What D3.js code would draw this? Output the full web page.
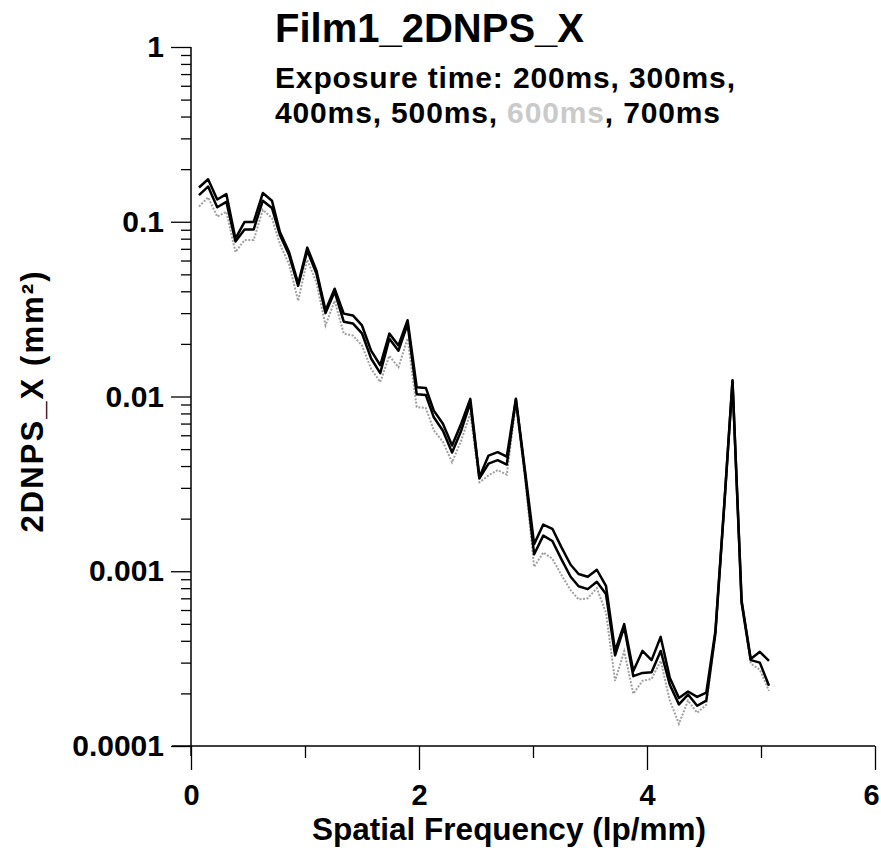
<!DOCTYPE html>
<html>
<head>
<meta charset="utf-8">
<script src="https://cdn.jsdelivr.net/npm/d3@7"></script>
<style>
  body { margin: 0; background: #fff; }
  svg text { font-family: "Liberation Sans", Arial, sans-serif; font-weight: bold; fill: #000; }
</style>
</head>
<body>
<svg id="chart" width="881" height="853"></svg>
<script>
// ---- data ----
const freq = [
  0.07, 0.15, 0.23, 0.31, 0.39, 0.47, 0.55, 0.63, 0.71, 0.78,
  0.86, 0.94, 1.02, 1.10, 1.18, 1.26, 1.34, 1.42, 1.50, 1.58,
  1.66, 1.74, 1.82, 1.90, 1.98, 2.06, 2.13, 2.21, 2.29, 2.37,
  2.45, 2.53, 2.61, 2.69, 2.77, 2.85, 2.93, 3.01, 3.09, 3.17,
  3.25, 3.33, 3.40, 3.48, 3.56, 3.64, 3.72, 3.80, 3.88, 3.96,
  4.04, 4.12, 4.20, 4.28, 4.36, 4.44, 4.52, 4.60, 4.68, 4.75,
  4.83, 4.91, 4.99, 5.07
];

// upper black curve
const npsUpper = [
  0.157, 0.175, 0.134, 0.144, 0.080, 0.0998, 0.0998, 0.146, 0.132, 0.0874,
  0.0671, 0.0442, 0.0711, 0.0527, 0.0311, 0.0414, 0.0298, 0.0291, 0.0255, 0.0183,
  0.0151, 0.0229, 0.0196, 0.0273, 0.0113, 0.0112, 0.0083, 0.00698, 0.00524, 0.00698,
  0.0097, 0.00345, 0.00459, 0.0048, 0.00453, 0.0097, 0.00377, 0.00143, 0.00185, 0.00175,
  0.00137, 0.00109, 0.000964, 0.00093, 0.00102, 0.000826, 0.00035, 0.000498, 0.000269, 0.00035,
  0.00031, 0.000421, 0.000246, 0.000188, 0.000205, 0.000191, 0.000202, 0.000456, 0.00254, 0.0124,
  0.000678, 0.000315, 0.000346, 0.000307
];

// lower black curve
const npsLower = [
  0.142, 0.159, 0.121, 0.130, 0.077, 0.0904, 0.0904, 0.132, 0.120, 0.084,
  0.0645, 0.0430, 0.0683, 0.0506, 0.0300, 0.0398, 0.0268, 0.0262, 0.0230, 0.0165,
  0.0136, 0.0214, 0.0183, 0.0260, 0.0103, 0.0102, 0.0076, 0.00637, 0.00478, 0.00637,
  0.0092, 0.00340, 0.00413, 0.00432, 0.00408, 0.0096, 0.00362, 0.00125, 0.00160, 0.00149,
  0.00117, 0.00093, 0.00082, 0.00079, 0.00087, 0.00074, 0.00033, 0.00048, 0.000251, 0.000262,
  0.000264, 0.00035, 0.000224, 0.000173, 0.000197, 0.000170, 0.000182, 0.00044, 0.00250, 0.0122,
  0.00066, 0.00031, 0.000300, 0.000221
];

// grey dotted curve (600ms)
const nps600 = [
  0.122, 0.138, 0.107, 0.114, 0.067, 0.0787, 0.0787, 0.117, 0.105, 0.0745,
  0.0572, 0.0353, 0.0606, 0.045, 0.0255, 0.0353, 0.0229, 0.0223, 0.0196, 0.0144,
  0.0121, 0.0171, 0.0147, 0.0215, 0.0087, 0.0086, 0.0064, 0.0055, 0.0042, 0.0056,
  0.0080, 0.00323, 0.00353, 0.00379, 0.00357, 0.0091, 0.0034, 0.00106, 0.00128, 0.00118,
  0.00095, 0.00078, 0.00069, 0.00070, 0.00080, 0.00058, 0.000236, 0.000349, 0.000199, 0.000236,
  0.000242, 0.000307, 0.000182, 0.000134, 0.000182, 0.000155, 0.000172, 0.00044, 0.00244, 0.0121,
  0.00065, 0.000296, 0.000273, 0.000207
];

const xMajor = [0, 2, 4, 6];
const xMinor = [1, 3, 5];
const yMajor = [0.0001, 0.001, 0.01, 0.1, 1];
const yLabels = ["0.0001", "0.001", "0.01", "0.1", "1"];

// ---- scales ----
const svg = d3.select("#chart");
const x = d3.scaleLinear().domain([0, 6]).range([191, 875]);
const y = d3.scaleLog().domain([0.0001, 1]).range([746, 47]);

const yMinor = [];
yMajor.slice(0, -1).forEach(p => { for (let m = 2; m <= 9; m++) yMinor.push(p * m); });

// ---- axes ----
const xAxisG = svg.append("g").attr("transform", `translate(0,${y(0.0001)})`);
xAxisG.call(d3.axisBottom(x).tickValues(xMajor).tickSize(24).tickSizeOuter(0).tickPadding(14).tickFormat(d3.format("d")));
xAxisG.append("g").call(d3.axisBottom(x).tickValues(xMinor).tickSize(12).tickFormat(""))
  .select(".domain").remove();
xAxisG.selectAll(".domain").remove();
xAxisG.selectAll("line").attr("stroke", "#000").attr("stroke-width", 1.3);
xAxisG.selectAll("text").style("font-size", "29px").attr("fill", "#000")
  .attr("dx", d => d === 6 ? -4 : 0);

const yAxisG = svg.append("g").attr("transform", `translate(${x(0)},0)`);
yAxisG.call(d3.axisLeft(y).tickValues(yMajor).tickSize(20).tickSizeOuter(0).tickPadding(7)
  .tickFormat((d, i) => yLabels[i]));
yAxisG.append("g").call(d3.axisLeft(y).tickValues(yMinor).tickSize(10).tickFormat(""))
  .select(".domain").remove();
yAxisG.selectAll(".domain").remove();
yAxisG.selectAll("line").attr("stroke", "#000").attr("stroke-width", 1.3);
yAxisG.selectAll("text").style("font-size", "30px").attr("fill", "#000");

// axis lines (slightly overshooting like the original)
svg.append("line").attr("x1", x(0) - 19).attr("x2", x(6)).attr("y1", y(0.0001)).attr("y2", y(0.0001))
  .attr("stroke", "#000").attr("stroke-width", 1.5);
svg.append("line").attr("x1", x(0)).attr("x2", x(0)).attr("y1", y(1)).attr("y2", y(0.0001) + 10)
  .attr("stroke", "#000").attr("stroke-width", 1.5);

// ---- curves ----
const line = d3.line().x(d => x(d[0])).y(d => y(d[1]));

svg.append("path").datum(d3.zip(freq, nps600)).attr("d", line)
  .attr("fill", "none").attr("stroke", "#a0a0a0").attr("stroke-width", 2)
  .attr("stroke-dasharray", "2,1.5");
svg.append("path").datum(d3.zip(freq, npsLower)).attr("d", line)
  .attr("fill", "none").attr("stroke", "#000").attr("stroke-width", 2.5)
  .attr("stroke-linejoin", "round");
svg.append("path").datum(d3.zip(freq, npsUpper)).attr("d", line)
  .attr("fill", "none").attr("stroke", "#000").attr("stroke-width", 2.5)
  .attr("stroke-linejoin", "round");

// ---- titles ----
svg.append("text").attr("x", 275).attr("y", 42).style("font-size", "40px").text("Film1_2DNPS_X");
svg.append("text").attr("x", 275).attr("y", 88).style("font-size", "30px")
  .attr("textLength", 460).attr("lengthAdjust", "spacing")
  .text("Exposure time: 200ms, 300ms,");
const sub2 = svg.append("text").attr("x", 275).attr("y", 123).style("font-size", "30px")
  .attr("textLength", 445).attr("lengthAdjust", "spacing");
sub2.append("tspan").text("400ms, 500ms, ");
sub2.append("tspan").style("fill", "#cacaca").text("600ms");
sub2.append("tspan").text(", 700ms");

svg.append("text").attr("x", 509).attr("y", 840).attr("text-anchor", "middle")
  .style("font-size", "31.5px").text("Spatial Frequency (lp/mm)");

svg.append("text").attr("transform", "translate(43,402) rotate(-90)").attr("text-anchor", "middle")
  .style("font-size", "31px").attr("textLength", 261).attr("lengthAdjust", "spacing")
  .text("2DNPS_X (mm²)");
</script>
</body>
</html>
